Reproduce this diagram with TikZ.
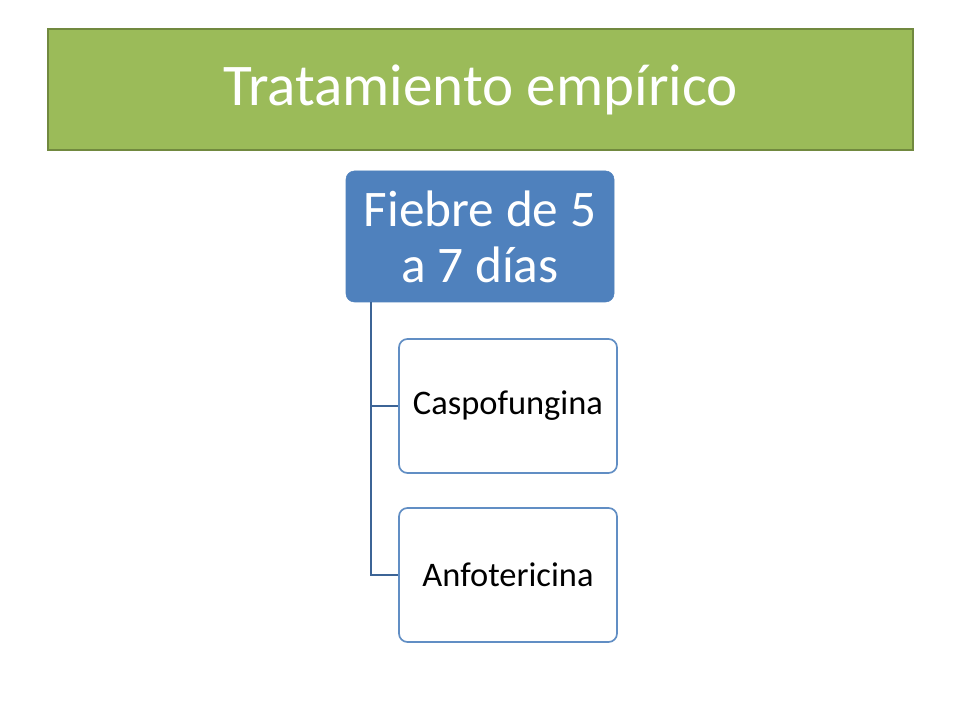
\documentclass[tikz,border=0pt]{standalone}
\usepackage{fontspec}
\setmainfont{Carlito}
\definecolor{titlegreen}{HTML}{9BBB59}
\definecolor{titleedge}{HTML}{71893F}
\definecolor{boxblue}{HTML}{4F81BD}
\definecolor{lineblue}{HTML}{3C6496}
\tikzset{
	headbox/.style={draw=boxblue, fill=boxblue, rounded corners=6pt, text=white,
		minimum width=268*0.025cm, minimum height=131*0.025cm, align=center,
		font=\fontsize{36.5}{40}\selectfont},
	childbox/.style={draw=boxblue!90, fill=white, line width=1.2pt, rounded corners=6pt,
		minimum width=218*0.025cm, minimum height=134*0.025cm, align=center,
		font=\fontsize{24.5}{28}\selectfont},
	link/.style={draw=lineblue, line width=1.4pt}
}
\begin{document}
\begin{tikzpicture}[x=0.025cm,y=-0.025cm]
		\useasboundingbox (0,0) rectangle (960,720);
		\fill[white] (0,0) rectangle (960,720);
		
		\draw[titleedge, fill=titlegreen, line width=1.2pt] (48,29) rectangle (913,150);
		\node[text=white, font=\fontsize{42}{48}\selectfont] (title) at (480.5,90) {Tratamiento empírico};
		
		\node[headbox] (fiebre) at (480,236.5) {Fiebre de 5\\a 7 días};
		\node[childbox] (caspo) at (508,406) {Caspofungina};
		\node[childbox] (anfo) at (508,575) {Anfotericina};
		
		\coordinate (trunk) at (371,302);
		\draw[link] (trunk) |- (caspo.west);
		\draw[link] (trunk) |- (anfo.west);
\end{tikzpicture}
\end{document}
